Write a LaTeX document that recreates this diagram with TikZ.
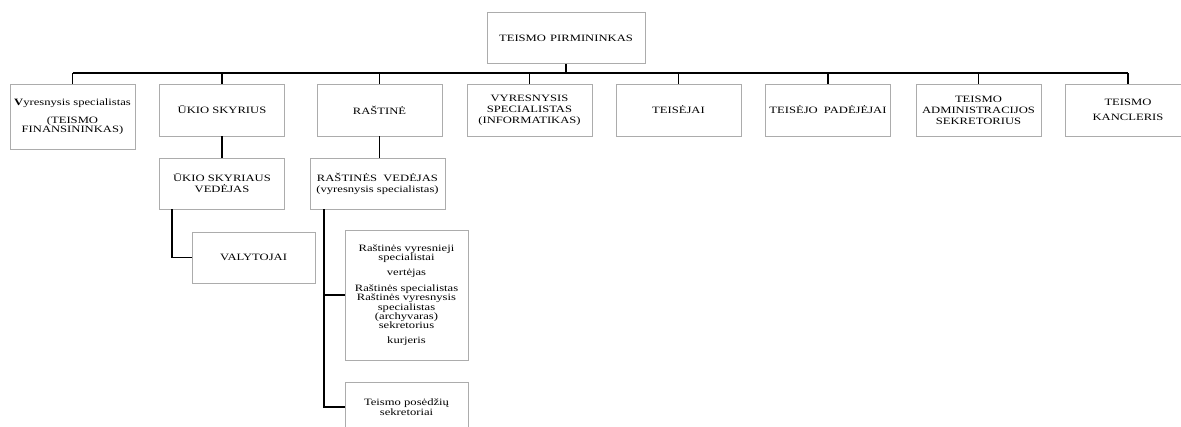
\documentclass[tikz,border=0pt]{standalone}
\usepackage{fontspec}
\setmainfont{Liberation Serif}[FakeStretch=1.3]
\usepackage{tikz}
\usetikzlibrary{calc}
\usetikzlibrary{positioning}
\newcommand{\tightlines}{\lineskiplimit=-20pt\relax}

\begin{document}
\begin{tikzpicture}[x=1pt,y=-1pt,
    orgbox/.style={draw=gray!65, line width=0.7pt, align=center, inner sep=0pt,
        minimum width=125pt, minimum height=52pt,
        font=\fontsize{9.7}{11}\selectfont\tightlines},
    link/.style={line width=1.4pt, black}]
    \useasboundingbox (0,0) rectangle (1181,427);
    \node[orgbox, minimum width=158pt, minimum height=51pt] (chair) at (566,38) {TEISMO\hspace{1pt} PIRMININKAS};
    \node[orgbox, minimum height=65pt] (fin) at (72.5,116.5) {\textbf{V}yresnysis specialistas\\[7pt](TEISMO\\[-2pt]FINANSININKAS)};
    \node[orgbox] (ukis) at (222,110) {ŪKIO SKYRIUS};
    \node[orgbox] (rastine) at (379.5,110) {RAŠTINĖ};
    \node[orgbox] (inform) at (529.5,110) {VYRESNYSIS\\SPECIALISTAS\\(INFORMATIKAS)};
    \node[orgbox] (teisejai) at (678.5,110) {TEISĖJAI};
    \node[orgbox] (padejejai) at (828,110) {TEISĖJO\hspace{3pt} PADĖJĖJAI};
    \node[orgbox] (admin) at (978.5,110) {TEISMO\\ADMINISTRACIJOS\\SEKRETORIUS};
    \node[orgbox] (kancl) at (1128,110) {TEISMO\\[3.7pt]KANCLERIS};
    \node[orgbox, minimum height=51pt] (ukved) at (222,183.5) {ŪKIO SKYRIAUS\\VEDĖJAS};
    \node[orgbox, minimum width=135pt, minimum height=51pt] (rasved) at (377.5,183.5) {RAŠTINĖS\hspace{3pt} VEDĖJAS\\(vyresnysis specialistas)};
    \node[orgbox, minimum width=123pt, minimum height=51pt] (valyt) at (253.5,257.5) {VALYTOJAI};
    \node[orgbox, minimum width=123pt, minimum height=130pt, font=\fontsize{9.7}{9.3}\selectfont\tightlines] (spec) at (406.5,295)
        {Raštinės vyresnieji\\specialistai\\[5pt]vertėjas\\[7pt]Raštinės specialistas\\Raštinės vyresnysis\\specialistas\\(archyvaras)\\sekretorius\\[5pt]kurjeris};
    \node[orgbox, minimum width=123pt, minimum height=50pt] (posed) at (406.5,407) {Teismo posėdžių\\[-1pt]sekretoriai};
    \coordinate (busl) at (72.5,73);
    \coordinate (busr) at (1128,73);
    \draw[link] (chair.south) -- (chair.south |- busl);
    \draw[link] (busl) -- (busr);
    \foreach \n in {fin,ukis,rastine,inform,teisejai,padejejai,admin,kancl}
        \draw[link] (\n.north) -- (\n.north |- busl);
    \draw[link] (ukis.south) -- (ukved.north);
    \draw[link] (rastine.south) -- (rastine.south |- rasved.north);
    \draw[link] ([xshift=-50pt]ukved.south) |- (valyt.west);
    \draw[link] ([xshift=-53.5pt]rasved.south) |- (spec.west);
    \draw[link] ([xshift=-53.5pt]rasved.south) |- (posed.west);
\end{tikzpicture}
\end{document}
